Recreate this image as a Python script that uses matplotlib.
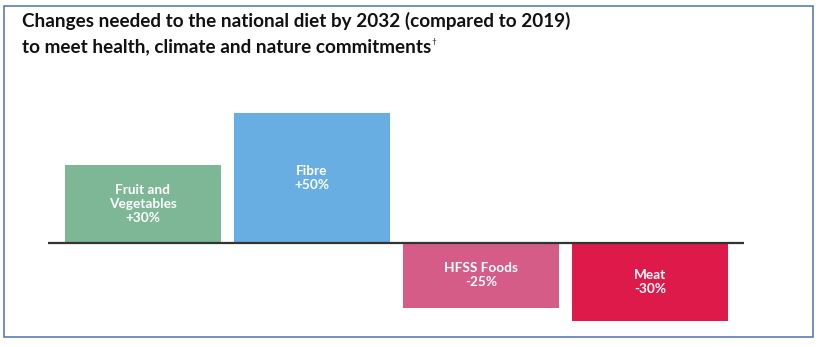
import matplotlib.pyplot as plt
from matplotlib.patches import Rectangle

# data
categories = ["Fruit and\nVegetables", "Fibre", "HFSS Foods", "Meat"]
changes = [30, 50, -25, -30]
colors = ["#7db796", "#68aee2", "#d65c88", "#de1a4a"]

plt.rcParams['font.family'] = ['Lato', 'DejaVu Sans']

W, H = 819, 347
fig = plt.figure(figsize=(W / 100, H / 100), dpi=100)

# axes placed so the baseline sits where it does in the reference
ax = fig.add_axes([48 / W, 1 - 326.2 / H, 696 / W, (326.2 - 107.8) / H])
x = list(range(len(categories)))
ax.bar(x, changes, width=0.923, color=colors, zorder=2)
ax.set_xlim(-0.562, 3.556)
ax.set_ylim(-32, 52)
ax.axhline(0, color="#333333", lw=1.6, zorder=3)

for xi, cat, val in zip(x, categories, changes):
    label = f"{cat}\n{'+' if val > 0 else ''}{val}%"
    ax.text(xi, val / 2, label, ha="center", va="center", color="white",
            fontsize=9.8, fontweight="bold", linespacing=1.2, zorder=4)

ax.axis("off")

# title, two lines plus the dagger
t1 = fig.text(22 / W, 1 - 21 / H, "Changes needed to the national diet by 2032 (compared to 2019)",
              fontsize=13.6, fontweight="bold", color="#111111", va="center")
t2 = fig.text(22 / W, 1 - 47 / H, "to meet health, climate and nature commitments",
              fontsize=13.6, fontweight="bold", color="#111111", va="center")
ax.annotate("†", xy=(1, 0.8), xycoords=t2, xytext=(0.5, 0), textcoords="offset points",
            fontsize=6, color="#111111", va="center", annotation_clip=False)

# thin frame around the whole graphic
fig.patches.append(Rectangle((4 / W, 1 - 337 / H), 809 / W, 331 / H,
                             transform=fig.transFigure, fill=False,
                             edgecolor="#5b7db5", lw=1.2))

fig.savefig("out.png", dpi=100)
